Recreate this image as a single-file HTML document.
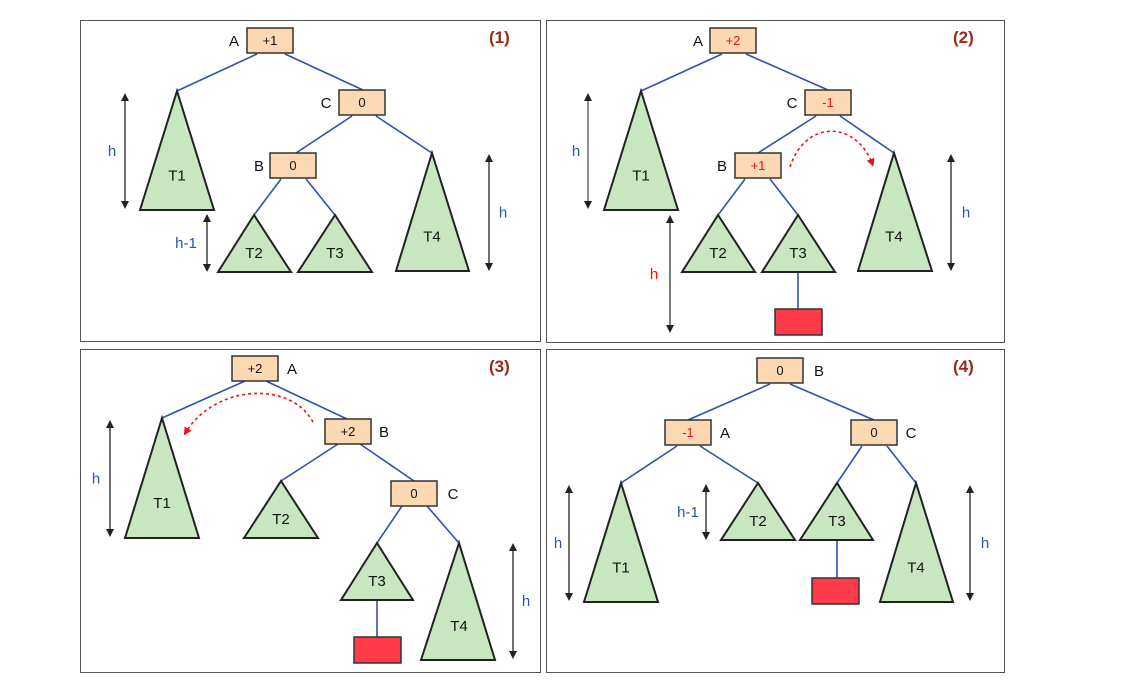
<!DOCTYPE html>
<html><head><meta charset="utf-8"><style>
html,body{margin:0;padding:0;background:#fff;}
svg{display:block;font-family:"Liberation Sans",sans-serif;}
</style></head><body>
<svg id="s" width="1124" height="689" viewBox="0 0 1124 689">
<defs>
<marker id="ah" markerWidth="8" markerHeight="8" refX="4" refY="4" orient="auto-start-reverse" markerUnits="userSpaceOnUse"><path d="M0,0 L8,4 L0,8 z" fill="#222"/></marker>
<marker id="rh" markerWidth="8" markerHeight="8" refX="4" refY="4" orient="auto" markerUnits="userSpaceOnUse"><path d="M0,0 L8,4 L0,8 z" fill="#e11"/></marker>
</defs>
</svg>
<script>
const S=document.getElementById('s');const NS='http://www.w3.org/2000/svg';
function mk(tag,a,name,txt){const e=document.createElementNS(NS,tag);for(const k in a)e.setAttribute(k,a[k]);


if(txt!==undefined)e.textContent=txt;S.appendChild(e);return e;}
function panel(x,y,w,h,n,lab){mk('rect',{x:x+.5,y:y+.5,width:w,height:h,fill:'#fff',stroke:'#555','stroke-width':1},'panel-'+n);
mk('text',{x:x+w-51,y:y+23,'font-size':17,'font-weight':'bold',fill:'#9b2a1a'},'panel-label-'+n,lab);}
function line(x1,y1,x2,y2,n){mk('line',{x1,y1,x2,y2,stroke:'#2f52b0','stroke-width':1.6},n);}
function box(x,y,val,red,n,letter,lx){mk('rect',{x,y,width:46,height:25,fill:'#fcd9b3',stroke:'#333','stroke-width':1.5},'node-'+n);
mk('text',{x:x+23,y:y+17,'font-size':13,'text-anchor':'middle',fill:red?'#e11':'#111'},'balance-'+n,val);
mk('text',{x:lx,y:y+18,'font-size':15,'text-anchor':'middle',fill:'#111'},'node-label-'+n,letter);}
function tri(ax,ay,bl,br,by,name){mk('polygon',{points:`${ax},${ay} ${bl},${by} ${br},${by}`,fill:'#c8e6c0',stroke:'#222','stroke-width':2},'subtree-'+name);
mk('text',{x:ax,y:by-(by-ay)*0.25,'font-size':15,'text-anchor':'middle',fill:'#111'},'subtree-label-'+name,name);}
function arrow(x,y1,y2,lbl,lx,col,n,ac){mk('line',{x1:x,y1:y1+4,x2:x,y2:y2-4,stroke:ac||'#222','stroke-width':1.3,'marker-start':'url(#ah)','marker-end':'url(#ah)'},'height-arrow-'+n);
mk('text',{x:lx,y:(y1+y2)/2+5,'font-size':15,'text-anchor':'middle',fill:col},'height-label-'+n,lbl);}
function redbox(x,y,n){mk('rect',{x,y,width:47,height:26,fill:'#ff3b4a',stroke:'#333','stroke-width':1.5},'inserted-node-'+n);}
const B='#2f52b0',R='#e11';
// Panel 1
panel(80,20,460,321,1,'(1)');
line(257,54,177,91,'edge-a-t1');line(285,54,363,90,'edge-a-c');line(352,116,296,153,'edge-c-b');line(376,116,432,153,'edge-c-t4');
line(281,179,254,215,'edge-b-t2');line(306,179,335,215,'edge-b-t3');
box(247,28,'+1',0,'a1','A',234);box(339,90,'0',0,'c1','C',326);box(270,153,'0',0,'b1','B',259);
tri(177,91,140,214,210,'T1');tri(254,215,218,291,272,'T2');tri(335,215,298,372,272,'T3');tri(432,153,396,469,271,'T4');
arrow(125,93,209,'h',112,B,'p1-t1');arrow(207,214,272,'h-1',186,B,'p1-t2');arrow(489,154,271,'h',503,B,'p1-t4');
// Panel 2
panel(546,20,458,322,2,'(2)');
line(722,54,641,91,'edge-a-t1-2');line(746,54,828,90,'edge-a-c-2');line(816,116,758,153,'edge-c-b-2');line(840,116,894,153,'edge-c-t4-2');
line(745,179,718,215,'edge-b-t2-2');line(770,179,798,215,'edge-b-t3-2');line(798,272,798,309,'edge-t3-new-2');
box(710,28,'+2',1,'a2','A',698);box(805,90,'-1',1,'c2','C',792);box(735,153,'+1',1,'b2','B',722);
tri(641,91,604,678,210,'T1');tri(718,215,682,755,272,'T2');tri(798,215,762,835,272,'T3');tri(894,153,858,932,271,'T4');
redbox(775,309,'2');
arrow(588,93,209,'h',576,B,'p2-t1','#555');arrow(670,215,333,'h',654,R,'p2-t2','#333');arrow(951,154,271,'h',966,B,'p2-t4');
mk('path',{d:'M790,167 C805,120 855,120 872,163',fill:'none',stroke:R,'stroke-width':1.6,'stroke-dasharray':'3,3','marker-end':'url(#rh)'},'rotation-arrow-2');
// Panel 3
panel(80,349,460,323,3,'(3)');
line(245,381,162,418,'edge-a-t1-3');line(266,381,347,419,'edge-a-b-3');line(338,444,281,481,'edge-b-t2-3');line(360,444,414,481,'edge-b-c-3');
line(402,506,377,543,'edge-c-t3-3');line(427,506,459,543,'edge-c-t4-3');line(377,600,377,637,'edge-t3-new-3');
box(232,356,'+2',0,'a3','A',292);box(325,419,'+2',0,'b3','B',384);box(391,481,'0',0,'c3','C',453);
tri(162,418,125,199,538,'T1');tri(281,481,244,318,538,'T2');tri(377,543,341,413,600,'T3');tri(459,543,421,495,660,'T4');
redbox(354,637,'3');
arrow(110,420,537,'h',96,B,'p3-t1');arrow(513,543,659,'h',526,B,'p3-t4');
mk('path',{d:'M313,422 C290,380 215,385 186,432',fill:'none',stroke:R,'stroke-width':1.6,'stroke-dasharray':'3,3','marker-end':'url(#rh)'},'rotation-arrow-3');
// Panel 4
panel(546,349,458,323,4,'(4)');
line(770,384,688,420,'edge-b-a-4');line(790,384,874,420,'edge-b-c-4');line(677,446,621,483,'edge-a-t1-4');line(700,446,758,483,'edge-a-t2-4');
line(862,446,837,483,'edge-c-t3-4');line(887,446,916,483,'edge-c-t4-4');line(837,540,837,578,'edge-t3-new-4');
box(757,358,'0',0,'b4','B',819);box(665,420,'-1',1,'a4','A',725);box(851,420,'0',0,'c4','C',911);
tri(621,483,584,658,602,'T1');tri(758,483,721,795,540,'T2');tri(837,483,800,873,540,'T3');tri(916,483,880,953,602,'T4');
redbox(812,578,'4');
arrow(569,485,601,'h',558,B,'p4-t1');arrow(706,484,540,'h-1',688,B,'p4-t2');arrow(970,485,601,'h',985,B,'p4-t4');
</script>
</body></html>
